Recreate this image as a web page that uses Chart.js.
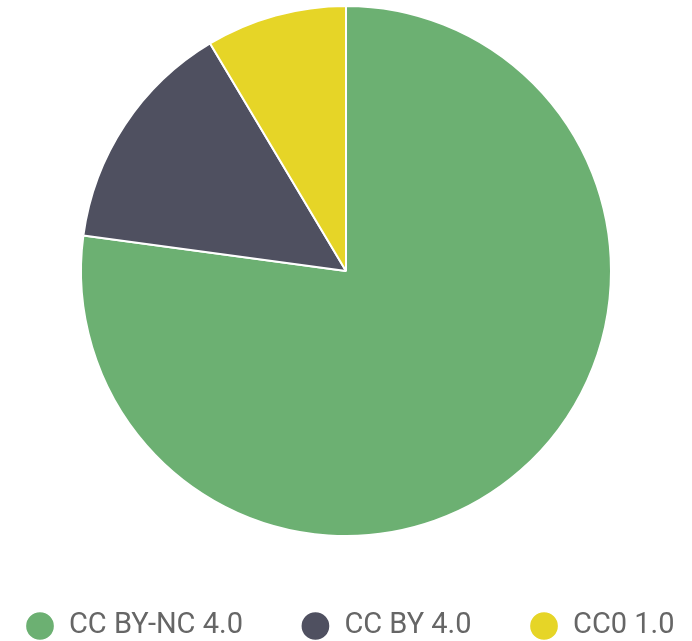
<!DOCTYPE html>
<html>
<head>
<meta charset="utf-8">
<script src="https://cdn.jsdelivr.net/npm/chart.js@4/dist/chart.umd.min.js"></script>
<style>
  html, body { margin: 0; padding: 0; background: #fff; }
  #wrap { width: 692px; height: 641px; }
</style>
</head>
<body>
<div id="wrap"><canvas id="chart"></canvas></div>
<script>
const licenses = ['CC BY-NC 4.0', 'CC BY 4.0', 'CC0 1.0'];
const counts = [27, 5, 3];
const colors = ['#6cb072', '#4f5060', '#e6d527'];

const ctx = document.getElementById('chart').getContext('2d');
new Chart(ctx, {
    type: 'pie',
    data: {
        labels: licenses,
        datasets: [{
            data: counts,
            backgroundColor: colors,
            borderColor: '#fff',
            borderWidth: 2,
        }],
    },
    options: {
        responsive: true,
        maintainAspectRatio: false,
        animation: false,
        // negative sides so the legend fits on one row with wide gaps
        layout: {
            padding: { top: 5, bottom: -9.5, left: -38, right: -46 },
        },
        plugins: {
            legend: {
                position: 'bottom',
                // empty title only adds a bit of space above the items
                title: {
                    display: true,
                    text: '',
                    padding: 0,
                    font: { size: 10, lineHeight: 1.65 },
                },
                labels: {
                    usePointStyle: true,
                    pointStyle: 'circle',
                    boxHeight: 21,
                    boxWidth: 30,
                    padding: 58,
                    color: '#666',
                    font: { family: 'Roboto', size: 29 },
                },
            },
            tooltip: { enabled: false },
        },
    },
});
</script>
</body>
</html>
